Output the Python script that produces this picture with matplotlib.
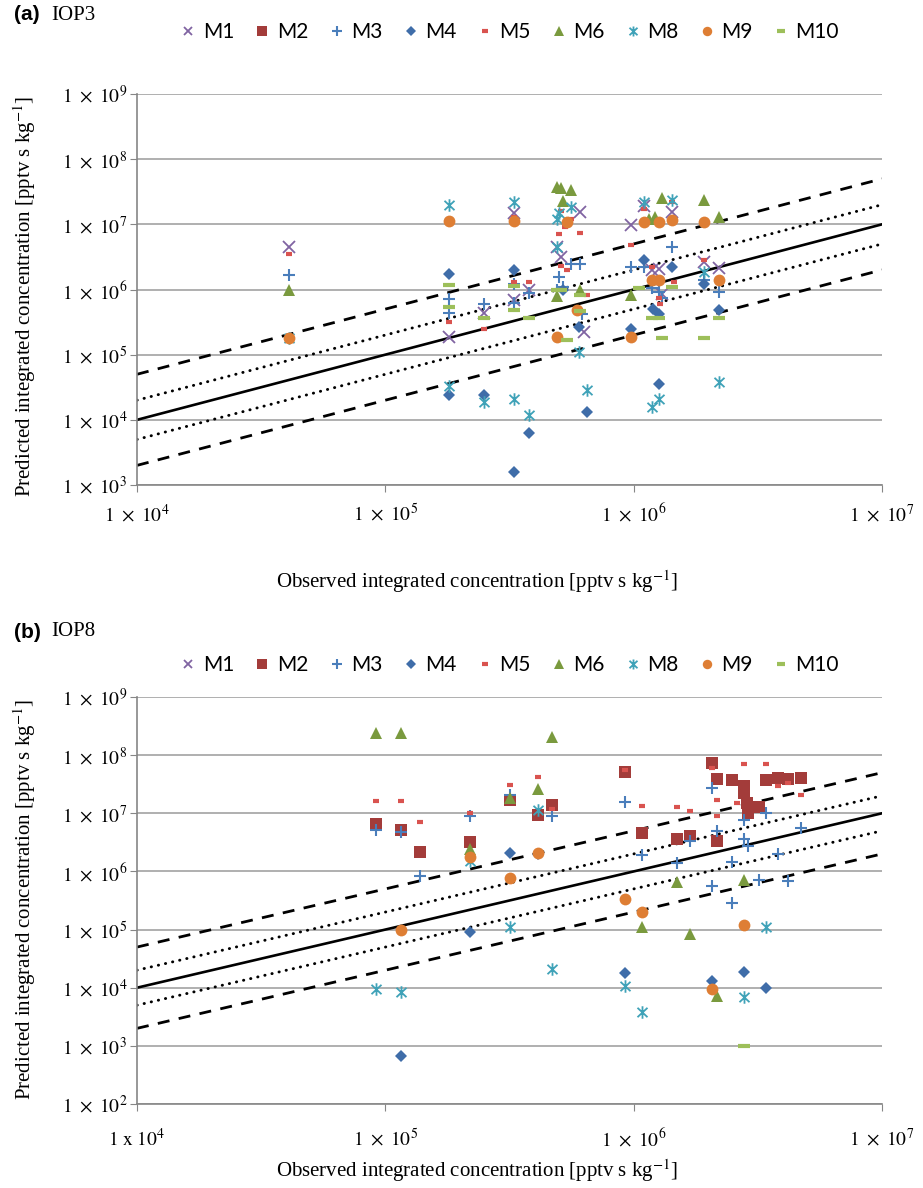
import matplotlib.pyplot as plt
from matplotlib.path import Path

plt.rcParams['mathtext.fontset'] = 'stix'

# modeles et tick labels
models = ['M1', 'M2', 'M3', 'M4', 'M5', 'M6', 'M8', 'M9', 'M10']
decades_x = [1e4, 1e5, 1e6, 1e7]
decades_y_a = [1e3, 1e4, 1e5, 1e6, 1e7, 1e8, 1e9]
decades_y_b = [1e2, 1e3, 1e4, 1e5, 1e6, 1e7, 1e8, 1e9]
ref_x = [1e4, 1e7]
factors = [1, 2, 0.5, 5, 0.2]

# (a) IOP3 : (observe, predit)
a_m1 = [(4.1e4, 4.5e6), (1.8e5, 1.9e5), (2.5e5, 4.4e5), (3.3e5, 1.5e7), (3.3e5, 6.9e5),
        (3.8e5, 1e6), (4.9e5, 4.5e6), (5.1e5, 3.1e6), (6.1e5, 1.55e7), (6.3e5, 2.2e5),
        (9.8e5, 9.6e6), (1.1e6, 1.9e7), (1.18e6, 2.0e6), (1.26e6, 2.1e6), (1.3e6, 8.5e5),
        (1.43e6, 1.55e7), (1.92e6, 2.6e6), (2.2e6, 2.15e6)]
a_m2 = []
a_m3 = [(4.1e4, 1.64e6), (1.8e5, 7.2e5), (1.8e5, 4.4e5), (2.5e5, 6.0e5), (3.3e5, 6.3e5),
        (3.3e5, 1.2e6), (3.8e5, 8.7e5), (4.9e5, 1.0e6), (5.0e5, 1.55e6), (5.2e5, 1.1e6),
        (5.6e5, 2.5e6), (6.1e5, 2.5e6), (6.2e5, 4.2e5), (9.8e5, 2.2e6), (1.1e6, 2.2e6),
        (1.18e6, 1.05e6), (1.26e6, 9e5), (1.3e6, 7.5e5), (1.43e6, 4.5e6), (1.92e6, 1.4e6),
        (2.2e6, 9e5)]
a_m4 = [(1.8e5, 1.7e6), (1.8e5, 2.4e4), (2.5e5, 2.4e4), (3.3e5, 2.0e6), (3.3e5, 1.6e3),
        (3.8e5, 6.3e3), (5.2e5, 1.0e6), (6.0e5, 2.7e5), (6.5e5, 1.3e4), (9.8e5, 2.5e5),
        (1.1e6, 2.8e6), (1.2e6, 5e5), (1.26e6, 4.2e5), (1.26e6, 3.5e4), (1.43e6, 2.2e6),
        (1.92e6, 1.2e6), (2.2e6, 4.8e5)]
a_m5 = [(4.1e4, 3.5e6), (1.8e5, 1.1e7), (1.8e5, 3.2e5), (2.5e5, 2.5e5), (3.3e5, 1.3e7),
        (3.3e5, 1.3e6), (3.8e5, 1.3e6), (5.1e5, 1.6e7), (5.3e5, 9e6), (5.0e5, 7e6),
        (5.1e5, 2.3e6), (5.4e5, 2e6), (5.6e5, 1.2e7), (6.1e5, 7.4e6), (6.5e5, 8.3e5),
        (9.8e5, 4.9e6), (1.1e6, 1.7e7), (1.18e6, 2.2e6), (1.26e6, 7.5e5), (1.28e6, 5.9e5),
        (1.43e6, 2.2e7), (1.45e6, 1.3e6), (1.92e6, 2.8e6), (2.2e6, 1.4e6)]
a_m6 = [(4.1e4, 1e6), (4.9e5, 3.8e7), (5.1e5, 3.6e7), (5.6e5, 3.4e7), (5.2e5, 2.3e7),
        (4.9e5, 8e5), (6.1e5, 1e6), (9.8e5, 8.3e5), (1.15e6, 1.2e7), (1.22e6, 1.3e7),
        (1.3e6, 2.5e7), (1.92e6, 2.4e7), (2.2e6, 1.3e7)]
a_m8 = [(4.1e4, 1.8e5), (1.8e5, 1.95e7), (1.8e5, 3.3e4), (2.5e5, 1.9e4), (3.3e5, 2.2e7),
        (3.3e5, 2.1e4), (3.8e5, 1.17e4), (4.9e5, 1.2e7), (5.0e5, 1.5e7), (4.9e5, 4.5e6),
        (5.6e5, 1.85e7), (6.0e5, 1.1e5), (6.5e5, 2.9e4), (1.1e6, 2.2e7), (1.18e6, 1.55e4),
        (1.26e6, 2.1e4), (1.43e6, 2.4e7), (1.92e6, 1.85e6), (2.2e6, 3.8e4)]
a_m9 = [(4.1e4, 1.8e5), (1.8e5, 1.12e7), (3.3e5, 1.12e7), (4.9e5, 1.85e5), (5.4e5, 1.1e7),
        (5.9e5, 4.9e5), (9.8e5, 1.85e5), (1.1e6, 1.1e7), (1.18e6, 1.4e6), (1.26e6, 1.4e6),
        (1.26e6, 1.1e7), (1.43e6, 1.15e7), (1.92e6, 1.1e7), (2.2e6, 1.4e6)]
a_m10 = [(1.8e5, 1.17e6), (1.8e5, 5.4e5), (2.5e5, 3.7e5), (3.3e5, 1.15e6), (3.3e5, 4.9e5),
         (3.8e5, 3.7e5), (4.9e5, 1.0e6), (5.1e5, 1.0e6), (5.4e5, 1.7e5), (6.1e5, 8.3e5),
         (6.1e5, 4.6e5), (1.05e6, 1.05e6), (1.18e6, 3.7e5), (1.26e6, 3.7e5), (1.3e6, 1.8e5),
         (1.43e6, 1.1e6), (1.92e6, 1.8e5), (2.2e6, 3.7e5)]

# (b) IOP8
b_m1 = []
b_m2 = [(9.2e4, 6.6e6), (1.16e5, 5.1e6), (1.38e5, 2.2e6), (2.19e5, 3.2e6), (3.19e5, 1.7e7),
        (4.1e5, 9.5e6), (4.67e5, 1.4e7), (9.2e5, 5.2e7), (1.08e6, 4.5e6), (1.5e6, 3.6e6),
        (1.68e6, 4.1e6), (2.06e6, 7.4e7), (2.17e6, 3.9e7), (2.17e6, 3.3e6), (2.5e6, 3.7e7),
        (2.77e6, 3.0e7), (2.77e6, 2.2e7), (2.85e6, 1.5e7), (2.9e6, 1.3e7), (2.9e6, 1.0e7),
        (3.2e6, 1.3e7), (3.4e6, 3.7e7), (3.8e6, 4.1e7), (4.2e6, 3.9e7), (4.7e6, 4e7)]
b_m3 = [(9.2e4, 5.2e6), (1.16e5, 4.8e6), (1.38e5, 8.3e5), (2.19e5, 9e6), (3.19e5, 2.1e7),
        (4.67e5, 9.1e6), (9.2e5, 1.58e7), (1.08e6, 1.95e6), (1.5e6, 1.37e6), (1.68e6, 3.3e6),
        (2.06e6, 2.7e7), (2.06e6, 5.7e5), (2.17e6, 4.9e6), (2.5e6, 1.45e6), (2.5e6, 2.9e5),
        (2.77e6, 7.8e6), (2.77e6, 3.6e6), (2.9e6, 2.7e6), (3.2e6, 7e5), (3.4e6, 1e7),
        (3.8e6, 2e6), (4.2e6, 6.8e5), (4.7e6, 5.6e6)]
b_m4 = [(1.16e5, 680), (2.19e5, 9.1e4), (3.19e5, 2.1e6), (4.1e5, 2e6), (9.2e5, 1.8e4),
        (2.06e6, 1.3e4), (2.77e6, 1.9e4), (3.4e6, 1e4)]
b_m5 = [(9.2e4, 1.6e7), (1.16e5, 1.6e7), (1.38e5, 7.1e6), (2.19e5, 1e7), (3.19e5, 3.1e7),
        (4.1e5, 4.2e7), (4.7e5, 1.2e7), (9.2e5, 5.5e7), (1.08e6, 1.35e7), (1.5e6, 1.3e7),
        (1.68e6, 1.1e7), (2.06e6, 6e7), (2.17e6, 1.7e7), (2.17e6, 9e6), (2.77e6, 7e7),
        (3.4e6, 7e7), (3.8e6, 2.9e7), (4.2e6, 3.3e7), (4.7e6, 2.1e7), (2.6e6, 1.5e7)]
b_m6 = [(9.2e4, 2.4e8), (1.16e5, 2.4e8), (2.19e5, 2.4e6), (3.19e5, 1.8e7), (4.1e5, 2.6e7),
        (4.67e5, 2.05e8), (1.08e6, 1.1e5), (1.5e6, 6.6e5), (1.68e6, 8.5e4), (2.17e6, 7.2e3),
        (2.77e6, 7.2e5)]
b_m8 = [(9.2e4, 9.6e3), (1.16e5, 8.5e3), (2.19e5, 1.5e6), (3.19e5, 1.1e5), (4.1e5, 1.15e7),
        (4.67e5, 2.1e4), (9.2e5, 1.07e4), (1.08e6, 3.8e3), (2.77e6, 6.8e3), (3.4e6, 1.1e5)]
b_m9 = [(1.16e5, 1e5), (2.19e5, 1.75e6), (3.19e5, 7.8e5), (4.1e5, 2.1e6), (9.2e5, 3.3e5),
        (1.08e6, 2.0e5), (2.06e6, 9.5e3), (2.77e6, 1.2e5)]
b_m10 = [(2.77e6, 1e3)]

# marqueur "etoile" facon Excel
star = Path([(0, -1), (0, 1), (-0.8, -0.75), (0.8, 0.75), (-0.8, 0.75), (0.8, -0.75)],
            [Path.MOVETO, Path.LINETO] * 3)

styles = {
    'M1': dict(marker='x', color='#8064A2', ms=8, mew=1.3),
    'M2': dict(marker='s', color='#A33C3A', ms=8.5, mew=0),
    'M3': dict(marker='+', color='#4A7EBB', ms=9, mew=1.5),
    'M4': dict(marker='D', color='#3F6DA9', ms=6.5, mew=0),
    'M5': dict(marker='_', color='#D9534F', ms=5, mew=3),
    'M6': dict(marker='^', color='#7A9A3E', ms=8.5, mew=0),
    'M8': dict(marker=star, color='#3FA2B8', ms=9, mew=1.3),
    'M9': dict(marker='o', color='#DE7E34', ms=8.5, mew=0),
    'M10': dict(marker='_', color='#9DBF5A', ms=8, mew=3),
}

ref_styles = {
    1: dict(color='k', lw=1.9, ls='-'),
    2: dict(color='k', lw=2.1, ls=(0, (0.1, 2.4)), dash_capstyle='round'),
    0.5: dict(color='k', lw=2.1, ls=(0, (0.1, 2.4)), dash_capstyle='round'),
    5: dict(color='k', lw=2.0, ls=(0, (4.3, 3.4))),
    0.2: dict(color='k', lw=2.0, ls=(0, (4.3, 3.4))),
}


def label_pow(v, cross='\\times'):
    e = len(str(int(v))) - 1
    return r'$1\ %s\ 10^{%d}$' % (cross, e)


def panel(ax, series, yticks, legend_y, xpad, first_cross):
    for f in factors:
        ax.plot(ref_x, [v * f for v in ref_x], zorder=2, **ref_styles[f])
    for name, pts in zip(models, series):
        xs = [p[0] for p in pts]
        ys = [p[1] for p in pts]
        s = styles[name]
        ax.plot(xs, ys, linestyle='none', marker=s['marker'], color=s['color'],
                markersize=s['ms'], markeredgewidth=s['mew'], label=name, zorder=3)
    ax.set_xscale('log')
    ax.set_yscale('log')
    ax.set_xlim(1e4, 1e7)
    ax.set_ylim(yticks[0], yticks[-1])
    ax.set_xticks(decades_x)
    xl = [label_pow(v) for v in decades_x]
    xl[0] = label_pow(decades_x[0], first_cross)
    ax.set_xticklabels(xl, fontsize=14)
    ax.set_yticks(yticks)
    ax.set_yticklabels([label_pow(v) for v in yticks], fontsize=14)
    ax.minorticks_off()
    ax.yaxis.grid(True, color='#A9A9A9', lw=1.3)
    ax.set_axisbelow(True)
    for side in ['top', 'right']:
        ax.spines[side].set_visible(False)
    for side in ['left', 'bottom']:
        ax.spines[side].set_color('#868686')
        ax.spines[side].set_linewidth(1.2)
    ax.tick_params(axis='y', direction='out', length=5, color='#868686', pad=2)
    ax.tick_params(axis='x', direction='out', length=5, color='#868686', pad=xpad)
    ax.legend(loc='center', bbox_to_anchor=(0.552, legend_y), bbox_transform=fig.transFigure,
              ncol=9, frameon=False, handlelength=0.8, handletextpad=0.3, columnspacing=0.95,
              markerscale=0.8, prop={'family': 'Lato', 'size': 15})


fig = plt.figure(figsize=(9.23, 11.88), dpi=100)
ax_a = fig.add_axes([137 / 923, 1 - 485 / 1188, 745 / 923, 391 / 1188])
ax_b = fig.add_axes([137 / 923, 1 - 1104 / 1188, 745 / 923, 407 / 1188])

panel(ax_a, [a_m1, a_m2, a_m3, a_m4, a_m5, a_m6, a_m8, a_m9, a_m10], decades_y_a,
      1 - 32 / 1188, 8, '\\times')
panel(ax_b, [b_m1, b_m2, b_m3, b_m4, b_m5, b_m6, b_m8, b_m9, b_m10], decades_y_b,
      1 - 665 / 1188, 12, '\\mathrm{x}')

# titres et labels
for y, tag, name in [(15, '(a)', 'IOP3'), (632, '(b)', 'IOP8')]:
    fig.text(14 / 923, 1 - y / 1188, tag, fontsize=15, fontweight='bold', family='Liberation Sans',
             va='center')
    fig.text(51 / 923, 1 - y / 1188, name, fontsize=15, family='Liberation Serif', va='center')

ylab = 'Predicted integrated concentration [pptv s kg$^{-1}$]'
xlab = 'Observed integrated concentration [pptv s kg$^{-1}$]'
for yc in [297, 900]:
    fig.text(25 / 923, 1 - yc / 1188, ylab, rotation=90, fontsize=15, family='Liberation Serif',
             ha='center', va='center')
for yc in [582, 1171]:
    fig.text(477 / 923, 1 - yc / 1188, xlab, fontsize=15, family='Liberation Serif',
             ha='center', va='center')

plt.savefig('out.png', dpi=100)
